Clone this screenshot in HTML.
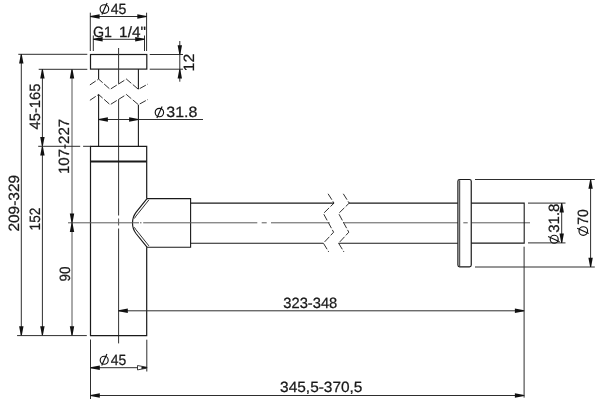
<!DOCTYPE html>
<html><head><meta charset="utf-8"><style>
html,body{margin:0;padding:0;background:#fff;}
svg{display:block;will-change:transform;}
text{font-family:"Liberation Sans",sans-serif;fill:#1a1a1a;stroke:#1a1a1a;stroke-width:0.25px;text-rendering:geometricPrecision;}
</style></head><body>
<svg width="600" height="407" viewBox="0 0 600 407">
<rect width="600" height="407" fill="#fff"/>
<rect x="90.5" y="54.5" width="56.3" height="14.6" fill="none" stroke="#1a1a1a" stroke-width="1.2"/>
<line x1="98.6" y1="69.1" x2="98.6" y2="79.1" stroke="#1a1a1a" stroke-width="1.1"/>
<line x1="138.4" y1="69.1" x2="138.4" y2="89.3" stroke="#1a1a1a" stroke-width="1.1"/>
<polyline points="89.9,84.9 98.6,79.1 110.1,89.3 126.4,79.1 138.4,89.3 148,84" fill="none" stroke="#1a1a1a" stroke-width="0.9" stroke-dasharray="7 1.9"/>
<polyline points="89.9,100.30000000000001 98.6,94.5 110.1,104.7 126.4,94.5 138.4,104.7 148,99.4" fill="none" stroke="#1a1a1a" stroke-width="0.9" stroke-dasharray="7 1.9"/>
<line x1="98.6" y1="94.5" x2="98.6" y2="146.3" stroke="#1a1a1a" stroke-width="1.1"/>
<line x1="138.4" y1="104.7" x2="138.4" y2="146.3" stroke="#1a1a1a" stroke-width="1.1"/>
<line x1="118.6" y1="48" x2="118.6" y2="83.8" stroke="#333" stroke-width="1.0"/>
<line x1="118.6" y1="99.4" x2="118.6" y2="215.5" stroke="#333" stroke-width="1.0"/>
<line x1="118.6" y1="218.5" x2="118.6" y2="225.5" stroke="#555" stroke-width="1.0"/>
<line x1="118.6" y1="228.5" x2="118.6" y2="343.4" stroke="#333" stroke-width="1.0"/>
<path d="M146.7,198.6 V146.3 H90.5 V335.7 H146.7 V247.2" fill="none" stroke="#1a1a1a" stroke-width="1.2"/>
<line x1="90.5" y1="161.5" x2="146.7" y2="161.5" stroke="#1a1a1a" stroke-width="1.8"/>
<path d="M146.7,198.6 H190.6 V247.2 H146.7" fill="none" stroke="#1a1a1a" stroke-width="1.1"/>
<path d="M147,198.6 L136,212.3 C133.6,215.6 132.5,219.1 132.5,222.9 C132.5,226.7 133.6,230.2 136,233.5 L147,247.2" fill="none" stroke="#1a1a1a" stroke-width="1.15"/>
<path d="M148.9,199.9 L137.9,213.7 C136.4,215.4 135.2,217 134.4,218.5 M134.4,227.3 C135.2,228.8 136.4,230.4 137.9,232.1 L148.9,245.9" fill="none" stroke="#1a1a1a" stroke-width="0.9"/>
<line x1="190.6" y1="203.1" x2="334" y2="203.1" stroke="#1a1a1a" stroke-width="1.1"/>
<line x1="190.6" y1="243.2" x2="323.4" y2="243.2" stroke="#1a1a1a" stroke-width="1.1"/>
<line x1="349" y1="203.1" x2="457.9" y2="203.1" stroke="#1a1a1a" stroke-width="1.1"/>
<line x1="338.5" y1="243.2" x2="457.9" y2="243.2" stroke="#1a1a1a" stroke-width="1.1"/>
<polyline points="328.1,193.8 334,203.1 323.4,213.5 333.6,232.2 323.4,243.2 328.7,251.9" fill="none" stroke="#1a1a1a" stroke-width="0.9" stroke-dasharray="7 1.9"/>
<polyline points="343.3,193.8 349.2,203.1 338.59999999999997,213.5 348.8,232.2 338.59999999999997,243.2 343.9,251.9" fill="none" stroke="#1a1a1a" stroke-width="0.9" stroke-dasharray="7 1.9"/>
<line x1="68" y1="222.8" x2="139" y2="222.8" stroke="#5a5a5a" stroke-width="1.0"/>
<line x1="140" y1="222.8" x2="141.5" y2="222.8" stroke="#5a5a5a" stroke-width="1.0"/>
<line x1="143.2" y1="222.8" x2="257.3" y2="222.8" stroke="#5a5a5a" stroke-width="1.0"/>
<line x1="261.7" y1="222.8" x2="266.7" y2="222.8" stroke="#5a5a5a" stroke-width="1.0"/>
<line x1="271" y1="222.8" x2="329.7" y2="222.8" stroke="#5a5a5a" stroke-width="1.0"/>
<line x1="343.5" y1="222.8" x2="458.3" y2="222.8" stroke="#5a5a5a" stroke-width="1.0"/>
<line x1="463.3" y1="222.8" x2="467.7" y2="222.8" stroke="#5a5a5a" stroke-width="1.0"/>
<line x1="471.7" y1="222.8" x2="530" y2="222.8" stroke="#5a5a5a" stroke-width="1.0"/>
<rect x="457.9" y="179.5" width="13.35" height="87.35" rx="1.8" fill="#fff" stroke="#1a1a1a" stroke-width="1.2"/>
<line x1="459.7" y1="180.2" x2="459.7" y2="266.2" stroke="#1a1a1a" stroke-width="0.9"/>
<line x1="463.3" y1="222.8" x2="467.7" y2="222.8" stroke="#5a5a5a" stroke-width="1.0"/>
<path d="M471.2,203.1 H524.2 V243.1 H471.2" fill="none" stroke="#1a1a1a" stroke-width="1.1"/>
<line x1="90.3" y1="12.7" x2="90.3" y2="51" stroke="#2e2e2e" stroke-width="1.0"/>
<line x1="146.6" y1="12.7" x2="146.6" y2="51" stroke="#2e2e2e" stroke-width="1.0"/>
<line x1="90.3" y1="16.5" x2="146.6" y2="16.5" stroke="#2e2e2e" stroke-width="1.0"/>
<polygon points="90.30,16.05 99.60,14.30 99.60,18.70 90.30,16.95" fill="#111"/>
<polygon points="146.60,16.05 137.30,14.30 137.30,18.70 146.60,16.95" fill="#111"/>
<line x1="93.3" y1="35.5" x2="93.3" y2="51" stroke="#2e2e2e" stroke-width="1.0"/>
<line x1="144.5" y1="35.5" x2="144.5" y2="51" stroke="#2e2e2e" stroke-width="1.0"/>
<line x1="93.3" y1="39.3" x2="144.5" y2="39.3" stroke="#2e2e2e" stroke-width="1.0"/>
<polygon points="93.30,38.85 102.60,37.10 102.60,41.50 93.30,39.75" fill="#111"/>
<polygon points="144.50,38.85 135.20,37.10 135.20,41.50 144.50,39.75" fill="#111"/>
<line x1="18.3" y1="54.3" x2="87.3" y2="54.3" stroke="#2e2e2e" stroke-width="1.0"/>
<line x1="38.7" y1="69.3" x2="87.3" y2="69.3" stroke="#2e2e2e" stroke-width="1.0"/>
<line x1="149.7" y1="54.5" x2="183" y2="54.5" stroke="#2e2e2e" stroke-width="1.0"/>
<line x1="149.7" y1="69.2" x2="183" y2="69.2" stroke="#2e2e2e" stroke-width="1.0"/>
<line x1="179.8" y1="41" x2="179.8" y2="81.7" stroke="#2e2e2e" stroke-width="1.0"/>
<polygon points="179.35,54.50 177.60,45.20 182.00,45.20 180.25,54.50" fill="#111"/>
<polygon points="179.35,69.20 177.60,78.50 182.00,78.50 180.25,69.20" fill="#111"/>
<line x1="98.6" y1="119.5" x2="203" y2="119.5" stroke="#2e2e2e" stroke-width="1.0"/>
<polygon points="98.60,119.05 107.90,117.30 107.90,121.70 98.60,119.95" fill="#111"/>
<polygon points="138.40,119.05 129.10,117.30 129.10,121.70 138.40,119.95" fill="#111"/>
<line x1="21.3" y1="54.3" x2="21.3" y2="335.5" stroke="#2e2e2e" stroke-width="1.0"/>
<polygon points="20.85,54.30 19.10,63.60 23.50,63.60 21.75,54.30" fill="#111"/>
<polygon points="20.85,335.50 19.10,326.20 23.50,326.20 21.75,335.50" fill="#111"/>
<line x1="42.4" y1="69.3" x2="42.4" y2="335.5" stroke="#2e2e2e" stroke-width="1.0"/>
<polygon points="41.95,69.30 40.20,78.60 44.60,78.60 42.85,69.30" fill="#111"/>
<polygon points="41.95,146.30 40.20,137.00 44.60,137.00 42.85,146.30" fill="#111"/>
<polygon points="41.95,146.30 40.20,155.60 44.60,155.60 42.85,146.30" fill="#111"/>
<polygon points="41.95,335.50 40.20,326.20 44.60,326.20 42.85,335.50" fill="#111"/>
<line x1="72" y1="69.3" x2="72" y2="335.5" stroke="#555" stroke-width="1.0"/>
<polygon points="71.55,69.30 69.80,78.60 74.20,78.60 72.45,69.30" fill="#111"/>
<polygon points="71.55,222.80 69.80,213.50 74.20,213.50 72.45,222.80" fill="#111"/>
<polygon points="71.55,222.80 69.80,232.10 74.20,232.10 72.45,222.80" fill="#111"/>
<polygon points="71.55,335.50 69.80,326.20 74.20,326.20 72.45,335.50" fill="#111"/>
<line x1="38.2" y1="146.3" x2="80.2" y2="146.3" stroke="#2e2e2e" stroke-width="1.0"/>
<line x1="83.1" y1="146.3" x2="90.5" y2="146.3" stroke="#2e2e2e" stroke-width="1.0"/>
<line x1="17.1" y1="335.6" x2="86.8" y2="335.6" stroke="#2e2e2e" stroke-width="1.0"/>
<line x1="90.5" y1="339.5" x2="90.5" y2="399" stroke="#2e2e2e" stroke-width="1.0"/>
<line x1="146.8" y1="339.7" x2="146.8" y2="371.5" stroke="#2e2e2e" stroke-width="1.0"/>
<line x1="90.5" y1="367.7" x2="146.8" y2="367.7" stroke="#2e2e2e" stroke-width="1.0"/>
<polygon points="90.50,367.25 99.80,365.50 99.80,369.90 90.50,368.15" fill="#111"/>
<polygon points="146.80,367.25 137.50,365.50 137.50,369.90 146.80,368.15" fill="#fff" stroke="#111" stroke-width="0.8"/>
<polygon points="146.8,367.3 141.5,366.4 141.5,369.0 146.8,368.1" fill="#111"/>
<line x1="118.5" y1="310.8" x2="524.2" y2="310.8" stroke="#2e2e2e" stroke-width="1.0"/>
<polygon points="118.50,310.35 127.80,308.60 127.80,313.00 118.50,311.25" fill="#111"/>
<polygon points="524.20,310.35 514.90,308.60 514.90,313.00 524.20,311.25" fill="#111"/>
<line x1="90.5" y1="395.5" x2="524.2" y2="395.5" stroke="#2e2e2e" stroke-width="1.0"/>
<polygon points="90.50,395.05 99.80,393.30 99.80,397.70 90.50,395.95" fill="#111"/>
<polygon points="524.20,395.05 514.90,393.30 514.90,397.70 524.20,395.95" fill="#111"/>
<line x1="524.1" y1="246.7" x2="524.1" y2="397.6" stroke="#2e2e2e" stroke-width="1.0"/>
<line x1="475" y1="179.5" x2="594.8" y2="179.5" stroke="#2e2e2e" stroke-width="1.0"/>
<line x1="475" y1="267.0" x2="594.8" y2="267.0" stroke="#2e2e2e" stroke-width="1.0"/>
<line x1="528" y1="203.1" x2="565.5" y2="203.1" stroke="#2e2e2e" stroke-width="1.0"/>
<line x1="528" y1="242.9" x2="565.5" y2="242.9" stroke="#2e2e2e" stroke-width="1.0"/>
<line x1="561.7" y1="203.1" x2="561.7" y2="242.9" stroke="#2e2e2e" stroke-width="1.0"/>
<polygon points="561.25,203.10 559.50,212.40 563.90,212.40 562.15,203.10" fill="#111"/>
<polygon points="561.25,242.90 559.50,233.60 563.90,233.60 562.15,242.90" fill="#111"/>
<line x1="590.6" y1="179.5" x2="590.6" y2="267.0" stroke="#2e2e2e" stroke-width="1.0"/>
<polygon points="590.15,179.50 588.40,188.80 592.80,188.80 591.05,179.50" fill="#111"/>
<polygon points="590.15,267.00 588.40,257.70 592.80,257.70 591.05,267.00" fill="#111"/>
<text transform="translate(110.75,13.50) scale(0.9474,1)" font-size="14.90">45</text>
<text transform="translate(166.27,116.77) scale(1.0709,1)" font-size="14.90">31.8</text>
<text transform="translate(283.30,307.57) scale(0.9877,1)" font-size="14.90">323-348</text>
<text transform="translate(110.82,364.71) scale(0.9368,1)" font-size="14.90">45</text>
<text transform="translate(280.10,391.56) scale(1.0361,1)" font-size="14.90">345,5-370,5</text>
<text transform="translate(193.56,71.39) rotate(-90) scale(1.0629,1)" font-size="14.90">12</text>
<text transform="translate(39.76,129.57) rotate(-90) scale(0.9955,1)" font-size="14.90">45-165</text>
<text transform="translate(18.94,231.60) rotate(-90) scale(1.0390,1)" font-size="14.90">209-329</text>
<text transform="translate(39.94,230.39) rotate(-90) scale(0.9132,1)" font-size="14.90">152</text>
<text transform="translate(68.55,174.01) rotate(-90) scale(1.0079,1)" font-size="14.90">107-227</text>
<text transform="translate(69.61,281.54) rotate(-90) scale(0.9045,1)" font-size="14.90">90</text>
<text transform="translate(558.83,232.78) rotate(-90) scale(1.0061,1)" font-size="14.90">31.8</text>
<text transform="translate(587.56,224.80) rotate(-90) scale(0.9375,1)" font-size="14.90">70</text>
<text transform="translate(92.93,36.77) scale(0.9577,1)" font-size="14.90">G1</text>
<text transform="translate(119.12,36.66) scale(1.0287,1)" font-size="14.90">1/4&quot;</text>
<g transform="translate(104.4,9.0)"><circle cx="0" cy="0" r="4.3" fill="none" stroke="#111" stroke-width="1.15"/><line x1="-2.5" y1="5.4" x2="2.7" y2="-6.1" stroke="#111" stroke-width="1.15"/></g>
<g transform="translate(159.4,112.5)"><circle cx="0" cy="0" r="4.2" fill="none" stroke="#111" stroke-width="1.15"/><line x1="-2.5" y1="5.4" x2="2.7" y2="-6.1" stroke="#111" stroke-width="1.15"/></g>
<g transform="translate(104.2,360.2)"><circle cx="0" cy="0" r="4.0" fill="none" stroke="#111" stroke-width="1.15"/><line x1="-2.5" y1="5.4" x2="2.7" y2="-6.1" stroke="#111" stroke-width="1.15"/></g>
<g transform="translate(554.2,239.2) rotate(-90)"><circle cx="0" cy="0" r="4.0" fill="none" stroke="#111" stroke-width="1.15"/><line x1="-2.5" y1="5.4" x2="2.7" y2="-6.1" stroke="#111" stroke-width="1.15"/></g>
<g transform="translate(583.3,231) rotate(-90)"><circle cx="0" cy="0" r="4.3" fill="none" stroke="#111" stroke-width="1.15"/><line x1="-2.5" y1="5.4" x2="2.7" y2="-6.1" stroke="#111" stroke-width="1.15"/></g>
</svg>
</body></html>
